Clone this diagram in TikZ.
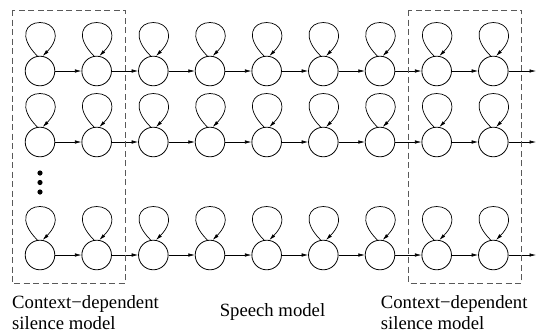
\documentclass[tikz,border=0pt]{standalone}
\usepackage{fontspec}
\setmainfont{Liberation Serif}
\usetikzlibrary{arrows.meta}
\begin{document}
\begin{tikzpicture}[x=1pt,y=-1pt,
  hmmstate/.style={circle,draw,line width=0.8pt,minimum size=29.6pt,inner sep=0pt},
  hop/.style={-{Latex[length=6.5pt,width=3.5pt]},line width=0.6pt},
  selfloop/.style={-{Latex[length=6.5pt,width=3.5pt]},line width=0.7pt},
  silbox/.style={dash pattern=on 6pt off 3.5pt,draw=black!65,line width=0.8pt},
  txt/.style={font=\fontsize{18.7}{21}\selectfont,inner sep=0pt}]
\useasboundingbox (0,0) rectangle (538,333);
\foreach \r/\y in {1/71,2/142,3/255} {
  \foreach \c in {1,...,9} {
    \node[hmmstate] (n-\r-\c) at ({40+(\c-1)*56.667},\y) {};
    \draw[selfloop] (n-\r-\c.100) .. controls +(-19.8,-19.8) and +(-14,0) ..
      ([yshift=33.3pt]n-\r-\c.north) .. controls +(14,0) and +(19.8,-19.8) .. (n-\r-\c.80);
  }
  \foreach \c [evaluate=\c as \d using int(\c+1)] in {1,...,8} {
    \draw[hop] (n-\r-\c) -- (n-\r-\d);
  }
  \coordinate (e-\r) at (536,\y);
  \draw[hop] (n-\r-9) -- (e-\r);
}
\fill (40,173) circle (2.6pt);
\fill (40,182.5) circle (2.6pt);
\fill (40,192) circle (2.6pt);
\draw[silbox] (12,10) rectangle (125,283.3);
\draw[silbox] (408.5,10) rectangle (521.8,283.3);
\node[txt,anchor=base west] (l1) at (12,308.3) {Context−dependent};
\node[txt,anchor=base west] (l2) at (12,329.5) {silence model};
\node[txt,anchor=base] (sp) at (272.5,316.5) {Speech model};
\node[txt,anchor=base west] (r1) at (380.7,308.3) {Context−dependent};
\node[txt,anchor=base west] (r2) at (380.7,329.5) {silence model};
\end{tikzpicture}
\end{document}
